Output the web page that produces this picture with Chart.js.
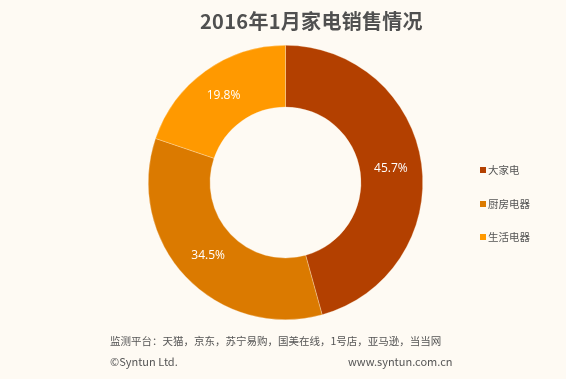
<!DOCTYPE html>
<html><head><meta charset="utf-8">
<script src="https://cdn.jsdelivr.net/npm/chart.js@4/dist/chart.umd.min.js"></script>
<style>
html,body{margin:0;padding:0;background:#FEFAF3;}
#wrap{position:relative;width:566px;height:379px;overflow:hidden;background:#FEFAF3;font-family:"Noto Sans CJK SC","Noto Sans",sans-serif;}
#c{position:absolute;left:0;top:0;}
.t{position:absolute;white-space:nowrap;color:#555;}
#title{left:200px;top:6px;font-size:20px;font-weight:bold;color:#505050;letter-spacing:0.3px;}
.lg{position:absolute;left:480px;font-size:10.5px;color:#555;white-space:nowrap;}
.lg i{display:inline-block;width:6px;height:6px;margin-right:2px;vertical-align:middle;position:relative;top:-1px;}
.ft{font-size:11px;}
</style></head>
<body>
<div id="wrap">
<canvas id="c" width="566" height="379"></canvas>
<div id="title" class="t"></div>
<div id="legend"></div>
<div id="f1" class="t ft" style="left:110px;top:333px;font-size:10.5px;"></div>
<div id="f2" class="t ft" style="left:110px;top:353px;"></div>
<div id="f3" class="t ft" style="left:348px;top:353px;"></div>
</div>
<script>
const titleText = "2016年1月家电销售情况";
const categories = ["大家电", "厨房电器", "生活电器"];
const shares = [45.7, 34.5, 19.8];
const colors = ["#B34000", "#DB7A00", "#FF9900"];
const footerPlatforms = "监测平台：天猫，京东，苏宁易购，国美在线，1号店，亚马逊，当当网";
const footerCopyright = "©Syntun Ltd.";
const footerSite = "www.syntun.com.cn";

document.getElementById('title').textContent = titleText;
document.getElementById('f1').textContent = footerPlatforms;
document.getElementById('f2').textContent = footerCopyright;
document.getElementById('f3').textContent = footerSite;

const lg = document.getElementById('legend');
const legendTops = [162, 196, 229];
categories.forEach((c, i) => {
  const d = document.createElement('div');
  d.className = 'lg';
  d.style.top = legendTops[i] + 'px';
  const sw = document.createElement('i');
  sw.style.background = colors[i];
  d.appendChild(sw);
  d.appendChild(document.createTextNode(c));
  lg.appendChild(d);
});

const labelPlugin = {
  id: 'sliceLabels',
  afterDatasetsDraw(chart) {
    const ctx = chart.ctx;
    const meta = chart.getDatasetMeta(0);
    ctx.save();
    ctx.fillStyle = '#ffffff';
    ctx.font = '12px "Open Sans","Noto Sans",sans-serif';
    ctx.textAlign = 'center';
    ctx.textBaseline = 'middle';
    meta.data.forEach((arc, i) => {
      const p = arc.tooltipPosition();
      ctx.fillText(shares[i].toFixed(1) + '%', p.x, p.y);
    });
    ctx.restore();
  }
};

new Chart(document.getElementById('c'), {
  type: 'doughnut',
  data: {
    labels: categories,
    datasets: [{
      data: shares,
      backgroundColor: colors,
      borderWidth: 0.5,
      borderColor: 'rgba(255,240,220,0.6)'
    }]
  },
  options: {
    responsive: false,
    animation: false,
    cutout: '55%',
    layout: { padding: { left: 148, right: 143, top: 45, bottom: 59 } },
    plugins: {
      legend: { display: false },
      title: { display: false },
      tooltip: { enabled: false }
    }
  },
  plugins: [labelPlugin]
});
</script>
</body></html>
